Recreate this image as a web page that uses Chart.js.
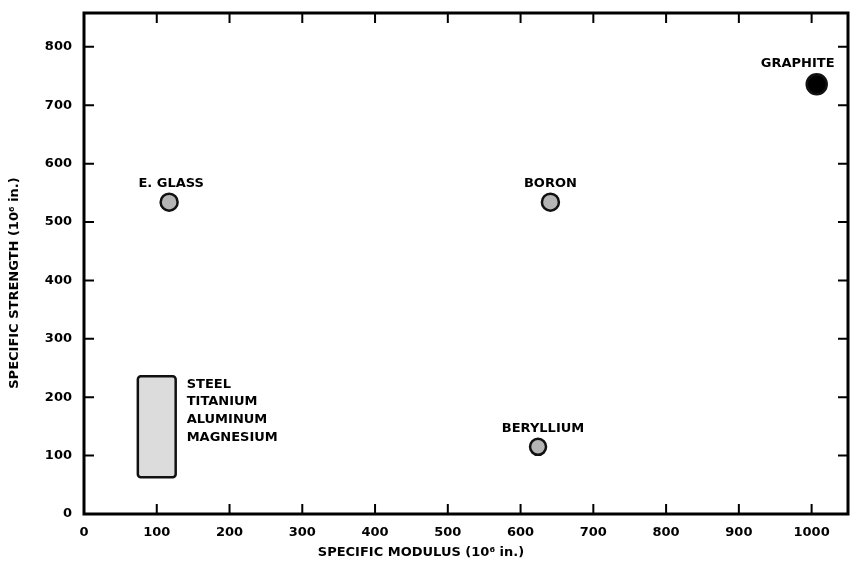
<!DOCTYPE html>
<html>
<head>
<meta charset="utf-8">
<script src="https://cdn.jsdelivr.net/npm/chart.js@4.4.1/dist/chart.umd.min.js"></script>
<style>
  html, body { margin: 0; padding: 0; background: #fff; }
  #wrap { width: 851px; height: 572px; }
</style>
</head>
<body>
<div id="wrap"><canvas id="myChart" width="851" height="572"></canvas></div>
<script>
// Datos
const materiales = ['E. GLASS', 'BORON', 'GRAPHITE', 'BERYLLIUM'];
const modulo = [117, 641, 1007, 624];          // specific modulus (10^6 in.)
const resistencia = [534, 534, 736, 115];      // specific strength (10^6 in.)
const radios = [8.5, 8.5, 10, 8];

// Banda de metales comunes
const metales = ['STEEL', 'TITANIUM', 'ALUMINUM', 'MAGNESIUM'];
const metalesX = [74, 126];
const metalesY = [63, 236];

const ticksX = [0, 100, 200, 300, 400, 500, 600, 700, 800, 900, 1000];
const ticksY = [0, 100, 200, 300, 400, 500, 600, 700, 800];

const fuente = '"DejaVu Sans", sans-serif';

// Plugin: marco, marcas hacia dentro, banda de metales, etiquetas y titulos
const extras = {
  id: 'extras',
  beforeDatasetsDraw(chart) {
    const ctx = chart.ctx;
    const x = chart.scales.x, y = chart.scales.y;
    // banda de metales
    const x0 = x.getPixelForValue(metalesX[0]), x1 = x.getPixelForValue(metalesX[1]);
    const y0 = y.getPixelForValue(metalesY[1]), y1 = y.getPixelForValue(metalesY[0]);
    ctx.save();
    ctx.fillStyle = '#dcdcdc';
    ctx.strokeStyle = '#111';
    ctx.lineWidth = 2.5;
    ctx.beginPath();
    ctx.roundRect(x0, y0, x1 - x0, y1 - y0, 3);
    ctx.fill();
    ctx.stroke();
    ctx.restore();
  },
  afterDraw(chart) {
    const ctx = chart.ctx;
    const a = chart.chartArea;
    const x = chart.scales.x, y = chart.scales.y;
    ctx.save();
    // marco
    ctx.strokeStyle = '#000';
    ctx.lineWidth = 3;
    ctx.strokeRect(a.left, a.top, a.right - a.left, a.bottom - a.top);
    // marcas
    ctx.lineWidth = 2;
    ctx.beginPath();
    ticksX.forEach(v => {
      if (v === 0) return;
      const px = x.getPixelForValue(v);
      ctx.moveTo(px, a.bottom); ctx.lineTo(px, a.bottom - 10);
      ctx.moveTo(px, a.top); ctx.lineTo(px, a.top + 10);
    });
    ticksY.forEach(v => {
      if (v === 0) return;
      const py = y.getPixelForValue(v);
      ctx.moveTo(a.left, py); ctx.lineTo(a.left + 10, py);
      ctx.moveTo(a.right, py); ctx.lineTo(a.right - 10, py);
    });
    ctx.stroke();

    // etiquetas de los puntos
    ctx.fillStyle = '#000';
    ctx.font = 'bold 13px ' + fuente;
    ctx.textAlign = 'center';
    ctx.textBaseline = 'bottom';
    const despl = [2, 0, -19, 5];
    materiales.forEach((m, i) => {
      const px = x.getPixelForValue(modulo[i]);
      const py = y.getPixelForValue(resistencia[i]);
      ctx.fillText(m, px + despl[i], py - radios[i] - 4);
    });

    // lista de metales
    ctx.textAlign = 'left';
    ctx.textBaseline = 'middle';
    const lx = x.getPixelForValue(metalesX[1]) + 11;
    const ly = y.getPixelForValue(metalesY[1]) + 8;
    metales.forEach((m, i) => ctx.fillText(m, lx, ly + i * 17.7));

    // titulos de los ejes
    ctx.font = 'bold 13px ' + fuente;
    ctx.textAlign = 'center';
    ctx.fillText('SPECIFIC MODULUS (10\u2076 in.)', 421, 553);
    ctx.translate(15, 283);
    ctx.rotate(-Math.PI / 2);
    ctx.fillText('SPECIFIC STRENGTH (10\u2076 in.)', 0, 0);
    ctx.restore();
  }
};

// marcas exteriores invisibles: solo reservan el hueco entre eje y rotulos
const rejilla = len => ({ display: true, drawOnChartArea: false, drawTicks: true, tickLength: len, color: 'rgba(0,0,0,0)' });

const ctx = document.getElementById('myChart').getContext('2d');
new Chart(ctx, {
  type: 'scatter',
  data: {
    datasets: [{
      data: modulo.map((v, i) => ({ x: v, y: resistencia[i] })),
      pointRadius: radios,
      pointBackgroundColor: ['#b5b5b5', '#b5b5b5', '#000', '#b5b5b5'],
      pointBorderColor: '#111',
      pointBorderWidth: 2.5,
      pointHoverRadius: radios
    }]
  },
  options: {
    responsive: false,
    animation: false,
    layout: { autoPadding: false, padding: { top: 13, right: 3, left: 0, bottom: 0 } },
    plugins: { legend: { display: false }, tooltip: { enabled: false } },
    scales: {
      x: {
        type: 'linear',
        min: 0, max: 1050,
        afterBuildTicks: s => { s.ticks = ticksX.map(v => ({ value: v })); },
        afterFit: s => { s.height = 58; },
        grid: rejilla(11),
        border: { display: false },
        ticks: {
          color: '#000', padding: 0,
          callback: v => String(v),
          font: { family: fuente, weight: 'bold', size: 13 }
        }
      },
      y: {
        type: 'linear',
        min: 0, max: 858,
        afterBuildTicks: s => { s.ticks = ticksY.map(v => ({ value: v })); },
        afterFit: s => { s.width = 84; },
        grid: rejilla(12),
        border: { display: false },
        ticks: { color: '#000', padding: 0, font: { family: fuente, weight: 'bold', size: 13 } }
      }
    }
  },
  plugins: [extras]
});
</script>
</body>
</html>
